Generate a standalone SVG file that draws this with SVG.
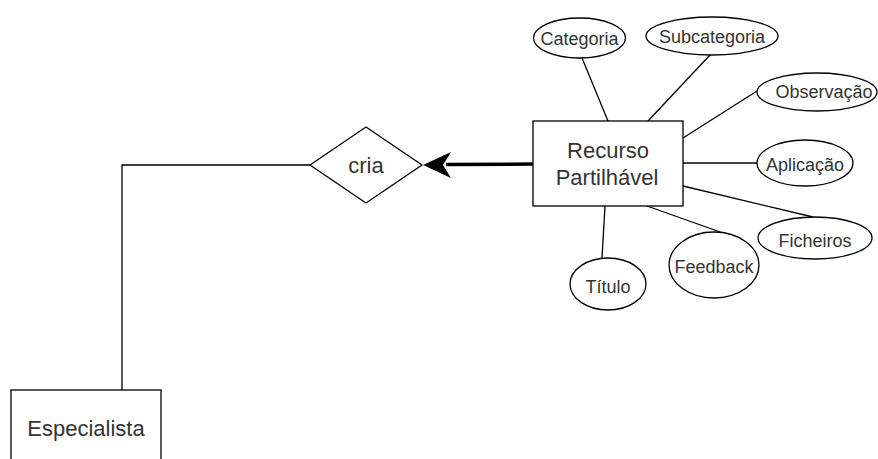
<svg xmlns="http://www.w3.org/2000/svg" width="878" height="459" viewBox="0 0 878 459">
<style>
.s{fill:#fff;stroke:#000;stroke-width:1.3}
.t{font-family:"Liberation Sans",Arial,sans-serif;fill:#333;text-anchor:middle}
.sm{font-size:18px}
.lg{font-size:22px}
.c{stroke:#000;stroke-width:1.3;fill:none}
</style>
<rect width="878" height="459" fill="#fff"/>
<g id="connectors">
<polyline class="c" points="310,165 122,165 122,390"/>
<line x1="533" y1="164" x2="446" y2="164.5" stroke="#000" stroke-width="3.5"/>
<path d="M423,165 L451,152 L443,165 L451,178 Z" fill="#000"/>
<line class="c" x1="582" y1="58" x2="608" y2="121"/>
<line class="c" x1="710" y1="55" x2="648" y2="121"/>
<line class="c" x1="757" y1="91" x2="683" y2="138"/>
<line class="c" x1="683" y1="163" x2="757" y2="163"/>
<line class="c" x1="683" y1="186" x2="813" y2="217"/>
<line class="c" x1="647" y1="206" x2="723" y2="233"/>
<line class="c" x1="605" y1="206" x2="602" y2="258"/>
</g>
<g id="cria">
<polygon class="s" points="310,165 366,127 422,165 366,203"/>
<text class="t lg" x="366" y="173">cria</text>
</g>
<g id="especialista">
<rect class="s" x="11" y="390" width="150" height="80"/>
<text class="t lg" x="86" y="436">Especialista</text>
</g>
<g id="recurso">
<rect class="s" x="533" y="121" width="150" height="85"/>
<text class="t lg" x="608" y="158">Recurso</text>
<text class="t lg" x="607" y="185">Partilhável</text>
</g>
<g id="categoria">
<ellipse class="s" cx="579.5" cy="38" rx="46" ry="20"/>
<text class="t sm" x="579.5" y="45">Categoria</text>
</g>
<g id="subcategoria">
<ellipse class="s" cx="712" cy="36" rx="66" ry="19"/>
<text class="t sm" x="712" y="43">Subcategoria</text>
</g>
<g id="observacao">
<ellipse class="s" cx="817" cy="92" rx="60" ry="19"/>
<text class="t sm" x="824" y="98">Observação</text>
</g>
<g id="aplicacao">
<ellipse class="s" cx="805" cy="163" rx="48" ry="23"/>
<text class="t sm" x="805" y="171">Aplicação</text>
</g>
<g id="ficheiros">
<ellipse class="s" cx="815" cy="238" rx="57" ry="21"/>
<text class="t sm" x="815" y="247">Ficheiros</text>
</g>
<g id="feedback">
<ellipse class="s" cx="714" cy="265" rx="45" ry="33"/>
<text class="t sm" x="714" y="273">Feedback</text>
</g>
<g id="titulo">
<ellipse class="s" cx="608" cy="284" rx="38" ry="26"/>
<text class="t sm" x="608" y="293">Título</text>
</g>
</svg>
